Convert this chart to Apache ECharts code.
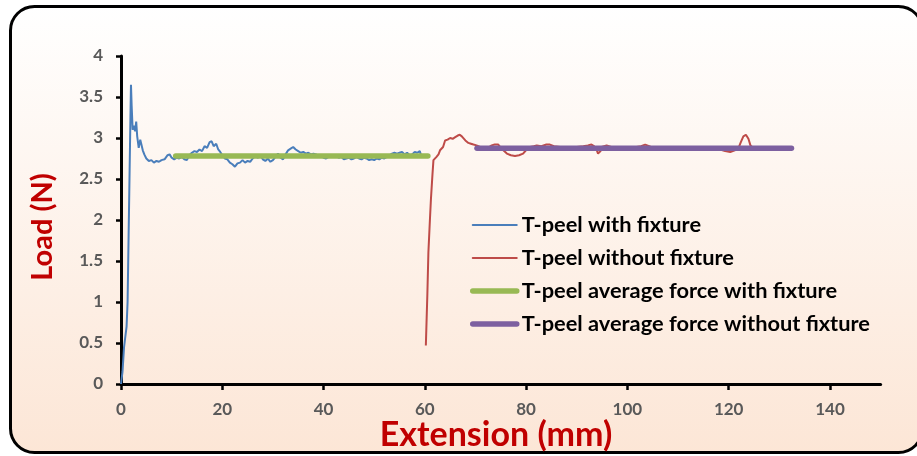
<!DOCTYPE html>
<html>
<head>
<meta charset="utf-8">
<script src="https://cdn.jsdelivr.net/npm/echarts@6/dist/echarts.min.js"></script>
<style>
  html, body { margin: 0; padding: 0; background: #ffffff; }
  #chart { width: 917px; height: 456px; }
</style>
</head>
<body>
<div id="chart"></div>
<script>
// T-peel load vs. extension, measured with and without the fixture
const seriesNames = [
  'T-peel with fixture',
  'T-peel without fixture',
  'T-peel average force with fixture',
  'T-peel average force without fixture'
];

// [extension (mm), load (N)]
const withFixture = [
  [0, 0], [0.3, 0.15], [0.6, 0.45], [0.8, 0.55], [1.1, 0.7], [1.3, 1.0], [1.5, 1.8], [1.7, 2.6],
  [1.85, 3.2], [1.97, 3.65], [2.1, 3.4], [2.3, 3.1], [2.6, 3.15], [2.8, 3.08], [3.0, 3.2], [3.2, 3.02],
  [3.5, 2.88], [3.8, 2.98], [4.0, 3.0], [4.3, 2.85], [4.6, 2.8], [5.0, 2.75], [5.5, 2.72], [6.0, 2.73],
  [6.5, 2.7], [7.0, 2.72], [7.5, 2.71], [8.0, 2.73], [8.6, 2.74], [9.2, 2.79], [9.6, 2.8], [10.0, 2.76],
  [10.5, 2.74], [11.0, 2.76], [11.5, 2.75], [12.0, 2.77], [12.5, 2.74], [13.0, 2.73], [13.5, 2.79],
  [14.0, 2.82], [14.5, 2.84], [15.0, 2.83], [15.5, 2.86], [16.0, 2.84], [16.5, 2.9], [17.0, 2.88],
  [17.5, 2.95], [17.9, 2.96], [18.3, 2.9], [18.8, 2.93], [19.2, 2.86], [19.6, 2.83], [20.0, 2.79],
  [20.5, 2.75], [21.0, 2.74], [21.5, 2.7], [22.0, 2.68], [22.5, 2.65], [23.0, 2.69], [23.5, 2.7],
  [24.0, 2.73], [24.5, 2.7], [25.0, 2.72], [25.5, 2.71], [26.0, 2.75], [26.5, 2.78], [27.0, 2.76],
  [27.5, 2.79], [28.0, 2.74], [28.5, 2.72], [29.0, 2.75], [29.5, 2.71], [30.0, 2.73], [30.5, 2.77],
  [31.0, 2.81], [31.5, 2.76], [32.0, 2.74], [32.5, 2.8], [33.0, 2.85], [33.5, 2.87], [34.0, 2.89],
  [34.5, 2.86], [35.0, 2.84], [35.5, 2.82], [36.0, 2.83], [36.5, 2.81], [37.0, 2.82], [37.5, 2.8],
  [38.0, 2.81], [38.5, 2.8], [39.0, 2.78], [39.5, 2.79], [40.0, 2.76], [40.5, 2.75], [41.0, 2.77],
  [41.5, 2.78], [42.0, 2.79], [42.5, 2.78], [43.0, 2.76], [43.5, 2.77], [44.0, 2.74], [44.5, 2.75],
  [45.0, 2.76], [45.5, 2.74], [46.0, 2.75], [46.5, 2.77], [47.0, 2.75], [47.5, 2.74], [48.0, 2.76],
  [48.5, 2.75], [49.0, 2.73], [49.5, 2.74], [50.0, 2.73], [50.5, 2.75], [51.0, 2.74], [51.5, 2.76],
  [52.0, 2.75], [52.5, 2.77], [53.0, 2.79], [53.5, 2.81], [54.0, 2.82], [54.5, 2.81], [55.0, 2.82],
  [55.5, 2.83], [56.0, 2.8], [56.5, 2.82], [57.0, 2.79], [57.5, 2.8], [58.0, 2.83], [58.5, 2.82],
  [59.0, 2.84], [59.2, 2.8]
];

const withoutFixture = [
  [60.2, 0.47], [60.5, 1.1], [60.7, 1.6], [61.0, 2.0], [61.2, 2.25], [61.5, 2.55], [61.7, 2.73],
  [62.0, 2.72], [62.3, 2.77], [62.7, 2.8], [63.0, 2.85], [63.3, 2.83], [63.6, 2.89], [64.0, 2.97],
  [64.5, 2.98], [65.0, 3.0], [65.5, 2.99], [66.0, 3.01], [66.5, 3.03], [66.9, 3.04], [67.3, 3.02],
  [67.6, 3.0], [68.0, 2.97], [68.6, 2.94], [69.1, 2.93], [69.6, 2.92], [70.2, 2.91], [70.9, 2.89],
  [71.4, 2.88], [71.9, 2.85], [72.5, 2.88], [73.2, 2.91], [73.8, 2.92], [74.5, 2.92], [75.0, 2.88],
  [75.5, 2.85], [76.2, 2.81], [77.0, 2.79], [77.8, 2.78], [78.6, 2.79], [79.4, 2.81], [80.1, 2.86],
  [80.8, 2.89], [81.5, 2.9], [82.1, 2.91], [83.0, 2.9], [84.0, 2.92], [84.7, 2.92], [85.5, 2.9],
  [86.7, 2.89], [87.7, 2.88], [88.7, 2.87], [90.0, 2.89], [91.3, 2.9], [92.2, 2.91], [92.9, 2.92],
  [93.4, 2.9], [93.9, 2.86], [94.2, 2.81], [94.4, 2.8], [94.7, 2.84], [94.9, 2.89], [95.4, 2.9],
  [95.9, 2.91], [96.8, 2.89], [97.9, 2.87], [99.0, 2.88], [99.9, 2.88], [100.8, 2.87], [101.8, 2.89],
  [102.7, 2.9], [103.5, 2.92], [104.3, 2.9], [105.1, 2.88], [106.5, 2.88], [107.8, 2.88], [109.0, 2.87],
  [110.4, 2.87], [111.7, 2.86], [113.0, 2.87], [114.4, 2.88], [115.7, 2.87], [117.0, 2.86],
  [118.3, 2.86], [119.3, 2.84], [120.3, 2.83], [121.2, 2.85], [121.9, 2.87], [122.4, 2.95],
  [122.9, 3.02], [123.4, 3.04], [123.9, 2.99], [124.3, 2.91], [124.8, 2.88], [125.2, 2.88],
  [126.3, 2.87], [127.5, 2.87], [128.8, 2.86], [130.1, 2.87], [131.2, 2.87], [132.1, 2.87]
];

// Average plateau force, drawn over the steady peel region
const avgWithFixture = [[10.8, 2.78], [60.6, 2.78]];
const avgWithoutFixture = [[70.3, 2.874], [132.4, 2.874]];

const xTicks = [0, 20, 40, 60, 80, 100, 120, 140];
const yTicks = [0, 0.5, 1, 1.5, 2, 2.5, 3, 3.5, 4];

const colors = ['#4a7ebb', '#be4b48', '#98b954', '#7d60a0'];
const lineWidths = [2, 2, 5.5, 5.5];
const tickFont = { fontFamily: 'Lato', fontWeight: 'bold', fontSize: 17, color: '#595959' };

const chart = echarts.init(document.getElementById('chart'), null, { renderer: 'canvas' });

chart.setOption({
  animation: false,
  backgroundColor: '#ffffff',
  graphic: [
    {
      type: 'rect',
      z: -10,
      shape: { x: 10.5, y: 6.5, width: 912, height: 446, r: 24 },
      style: {
        fill: new echarts.graphic.LinearGradient(0, 0, 0, 1, [
          { offset: 0, color: '#ffffff' },
          { offset: 1, color: '#fce6d6' }
        ]),
        stroke: '#000000',
        lineWidth: 3
      }
    },
    {
      type: 'text',
      x: 43,
      y: 227,
      rotation: Math.PI / 2,
      style: {
        text: 'Load (N)',
        align: 'center',
        verticalAlign: 'middle',
        fontFamily: 'Lato',
        fontWeight: 'bold',
        fontSize: 29,
        fill: '#c00000'
      }
    },
    {
      type: 'text',
      x: 496,
      y: 435,
      style: {
        text: 'Extension (mm)',
        align: 'center',
        verticalAlign: 'middle',
        fontFamily: 'Lato',
        fontWeight: 'bold',
        fontSize: 34,
        fill: '#c00000'
      }
    }
  ],
  grid: { left: 121, right: 36.4, top: 56, bottom: 72, containLabel: false },
  legend: {
    orient: 'vertical',
    left: 465,
    top: 209,
    itemWidth: 44,
    itemHeight: 14,
    itemGap: 11,
    itemStyle: { opacity: 0 },
    textStyle: { fontFamily: 'Lato', fontWeight: 'bold', fontSize: 21.8, color: '#000000', lineHeight: 20 },
    data: seriesNames.map((name, i) => ({
      name: name,
      lineStyle: { width: lineWidths[i], cap: 'round' }
    }))
  },
  xAxis: {
    type: 'value',
    min: 0,
    max: 150,
    interval: 20,
    axisLine: { onZero: false, lineStyle: { color: '#000000', width: 3 } },
    axisTick: { show: true, length: 6, lineStyle: { color: '#000000', width: 2.5 }, customValues: xTicks },
    axisLabel: Object.assign({ margin: 17, customValues: xTicks }, tickFont),
    splitLine: { show: false }
  },
  yAxis: {
    type: 'value',
    min: 0,
    max: 4,
    interval: 0.5,
    axisLine: { show: true, lineStyle: { color: '#000000', width: 3 } },
    axisTick: { show: true, length: 5, lineStyle: { color: '#000000', width: 2.5 }, customValues: yTicks },
    axisLabel: Object.assign({ margin: 18, customValues: yTicks }, tickFont),
    splitLine: { show: false }
  },
  series: [
    {
      name: seriesNames[0], type: 'line', data: withFixture, showSymbol: false, symbol: 'none',
      lineStyle: { color: colors[0], width: lineWidths[0] }, itemStyle: { color: colors[0] }
    },
    {
      name: seriesNames[1], type: 'line', data: withoutFixture, showSymbol: false, symbol: 'none',
      lineStyle: { color: colors[1], width: lineWidths[1] }, itemStyle: { color: colors[1] }
    },
    {
      name: seriesNames[2], type: 'line', data: avgWithFixture, showSymbol: false, symbol: 'none',
      lineStyle: { color: colors[2], width: lineWidths[2], cap: 'round' }, itemStyle: { color: colors[2] }
    },
    {
      name: seriesNames[3], type: 'line', data: avgWithoutFixture, showSymbol: false, symbol: 'none',
      lineStyle: { color: colors[3], width: lineWidths[3], cap: 'round' }, itemStyle: { color: colors[3] }
    }
  ]
});
</script>
</body>
</html>
